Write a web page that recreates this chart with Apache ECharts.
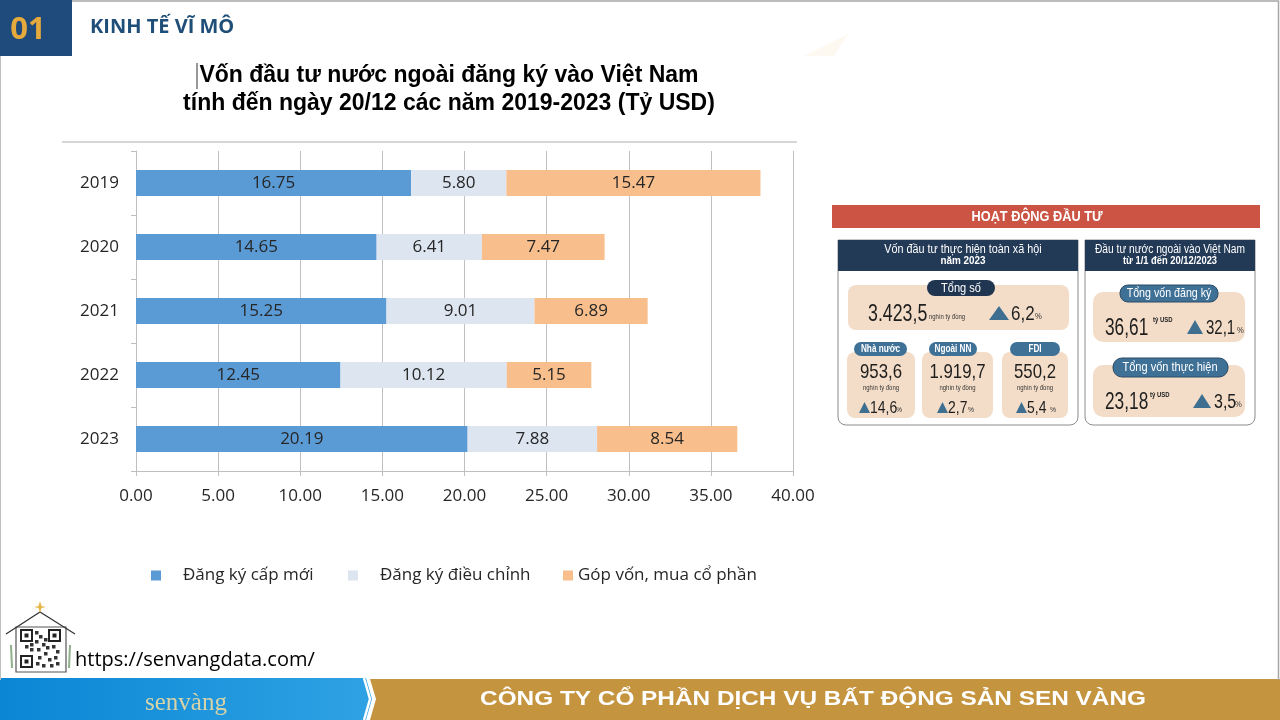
<!DOCTYPE html>
<html><head><meta charset="utf-8">
<script src="https://cdn.jsdelivr.net/npm/echarts@6/dist/echarts.min.js"></script>
<style>html,body{margin:0;padding:0;background:#fff}#c{width:1280px;height:720px}</style>
</head><body><div id="c"></div>
<script>
// ---- data ----
const years = ['2019', '2020', '2021', '2022', '2023'];
const newReg = [16.75, 14.65, 15.25, 12.45, 20.19];
const adjReg = [5.80, 6.41, 9.01, 10.12, 7.88];
const capContrib = [15.47, 7.47, 6.89, 5.15, 8.54];
const totals = [38.02, 28.53, 31.15, 27.72, 36.61];
const seriesNames = ['Đăng ký cấp mới', 'Đăng ký điều chỉnh', 'Góp vốn, mua cổ phần'];
const xMin = 0, xMax = 40, xStep = 5;

// ---- styles ----
const colors = ['#5B9BD5', '#DDE5F1', '#F8BF8D'];
const totalLabelOffsets = [[44, 3], [79, 3], [42, 5], [74, 1], [58, 2]];
const F = '"Open Sans", "Liberation Sans", sans-serif';
const A = '"Liberation Sans", Arial, sans-serif';
const N = '"Liberation Sans", Arial, sans-serif';

const g = [];
function rect(x, y, w, h, fill, o) {
  o = o || {};
  g.push({type: 'rect', silent: true, z: o.z || 1,
    shape: {x: x, y: y, width: w, height: h, r: o.r || 0},
    style: {fill: fill, stroke: o.stroke || null, lineWidth: o.lw || 0}});
}
function text(x, y, t, font, fill, align, sx) {
  g.push({type: 'text', silent: true, z: 5, x: x, y: y, scaleX: sx || 1,
    style: {text: t, font: font, fill: fill, textAlign: align || 'left', align: align || 'left',
      textVerticalAlign: 'middle', verticalAlign: 'middle'}});
}
function poly(pts, fill, o) {
  o = o || {};
  g.push({type: 'polygon', silent: true, z: o.z || 1, shape: {points: pts}, style: {fill: fill}});
}
function line(pts, stroke, lw, o) {
  o = o || {};
  g.push({type: 'polyline', silent: true, z: o.z || 2, shape: {points: pts}, style: {stroke: stroke, lineWidth: lw, fill: null}});
}

// slide frame
line([[72, 1], [1278.5, 1], [1278.5, 680]], '#A6A6A6', 1.5);
line([[0.5, 56], [0.5, 680]], '#BFBFBF', 1);
// header
rect(0, 0, 72, 56, '#1F4A7C');
text(28, 30, '01', 'bold 31px ' + F, '#E6A93B', 'center');
text(90, 27, 'KINH TẾ VĨ MÔ', 'bold 20px ' + F, '#1F4E79', 'left');
poly([[804, 56], [848, 34], [834, 56]], '#FDF9F1');
// chart title
text(449, 76, 'Vốn đầu tư nước ngoài đăng ký vào Việt Nam', 'bold 23px ' + A, '#000', 'center');
text(449, 104, 'tính đến ngày 20/12 các năm 2019-2023 (Tỷ USD)', 'bold 23px ' + A, '#000', 'center');
line([[197, 63], [197, 89]], '#333', 1);
line([[62, 142], [797, 142]], '#C8C8C8', 1.5);

// infographic
rect(832, 205, 428, 23, '#CB5444');
text(1037, 217, 'HOẠT ĐỘNG ĐẦU TƯ', 'bold 15px ' + N, '#fff', 'center', 0.85);
// left panel
rect(838, 240, 240, 185, '#fff', {stroke: '#8C8C8C', lw: 1, r: [0, 0, 8, 8]});
rect(838, 240, 240, 31, '#233A57', {z: 2});
text(963, 250, 'Vốn đầu tư thực hiện toàn xã hội', '12px ' + N, '#fff', 'center', 0.9);
text(963, 261, 'năm 2023', 'bold 11px ' + N, '#fff', 'center', 0.9);
rect(848, 285, 221, 45, '#F3DDC8', {r: 8, z: 2});
rect(927, 280, 68, 16, '#1F3550', {r: 8, z: 3});
text(961, 288, 'Tổng số', '13px ' + N, '#fff', 'center', 0.85);
text(868, 314, '3.423,5', '24px ' + N, '#1E1E1E', 'left', 0.74);
text(929, 317, 'nghìn tỷ đồng', '7px ' + N, '#333', 'left', 0.85);
poly([[989, 320], [999, 306], [1009, 320]], '#3E6E90', {z: 4});
text(1011, 314, '6,2', '20px ' + N, '#1E1E1E', 'left', 0.85);
text(1035, 317, '%', '9px ' + N, '#333', 'left', 0.85);
const smallBoxes = [
  {x: 847, w: 68, pill: [854, 53], name: 'Nhà nước', val: '953,6', tri: 859, pct: '14,6', pc: 896},
  {x: 922, w: 71, pill: [929, 48], name: 'Ngoài NN', val: '1.919,7', tri: 937, pct: '2,7', pc: 968},
  {x: 1002, w: 66, pill: [1010, 50], name: 'FDI', val: '550,2', tri: 1016, pct: '5,4', pc: 1050}
];
smallBoxes.forEach(function (b) {
  const cx = b.x + b.w / 2;
  rect(b.x, 352, b.w, 66, '#F3DDC8', {r: 8, z: 2});
  rect(b.pill[0], 342, b.pill[1], 14, '#3F7197', {r: 7, z: 3});
  text(b.pill[0] + b.pill[1] / 2, 349, b.name, 'bold 10px ' + N, '#fff', 'center', 0.82);
  text(cx, 372, b.val, '21px ' + N, '#1E1E1E', 'center', 0.8);
  text(cx, 388, 'nghìn tỷ đồng', '7px ' + N, '#333', 'center', 0.85);
  poly([[b.tri, 413], [b.tri + 5.5, 402], [b.tri + 11, 413]], '#3E6E90', {z: 4});
  text(b.tri + 11, 408, b.pct, '17px ' + N, '#1E1E1E', 'left', 0.82);
  text(b.pc, 410, '%', '8px ' + N, '#333', 'left', 0.85);
});
// right panel
rect(1085, 240, 170, 185, '#fff', {stroke: '#8C8C8C', lw: 1, r: [0, 0, 8, 8]});
rect(1085, 240, 170, 31, '#233A57', {z: 2});
text(1170, 250, 'Đầu tư nước ngoài vào Việt Nam', '12px ' + N, '#fff', 'center', 0.85);
text(1170, 261, 'từ 1/1 đến 20/12/2023', 'bold 11px ' + N, '#fff', 'center', 0.85);
rect(1093, 292, 152, 50, '#F3DDC8', {r: 10, z: 2});
rect(1120, 285, 98, 17, '#3F7197', {r: 8, z: 3, stroke: '#2A4A66', lw: 1});
text(1169, 293, 'Tổng vốn đăng ký', '13px ' + N, '#fff', 'center', 0.82);
text(1105, 328, '36,61', '24px ' + N, '#1E1E1E', 'left', 0.72);
text(1153, 320, 'tỷ USD', 'bold 7px ' + N, '#222', 'left', 0.85);
poly([[1187, 334], [1195, 320], [1203, 334]], '#3E6E90', {z: 4});
text(1206, 328, '32,1', '20px ' + N, '#1E1E1E', 'left', 0.75);
text(1237, 331, '%', '9px ' + N, '#333', 'left', 0.85);
rect(1093, 365, 152, 52, '#F3DDC8', {r: 10, z: 2});
rect(1113, 358, 115, 19, '#3F7197', {r: 9, z: 3, stroke: '#2A4A66', lw: 1});
text(1170, 367, 'Tổng vốn thực hiện', '13px ' + N, '#fff', 'center', 0.85);
text(1105, 402, '23,18', '24px ' + N, '#1E1E1E', 'left', 0.72);
text(1150, 395, 'tỷ USD', 'bold 7px ' + N, '#222', 'left', 0.85);
poly([[1193, 408], [1202, 394], [1211, 408]], '#3E6E90', {z: 4});
text(1214, 402, '3,5', '20px ' + N, '#1E1E1E', 'left', 0.8);
text(1235, 405, '%', '9px ' + N, '#333', 'left', 0.85);

// QR house
line([[6, 634], [40, 612], [75, 634]], '#333', 1.2);
rect(16, 627, 50, 45, '#fff', {stroke: '#555', lw: 1.2});
rect(21, 630, 40, 38, '#fff', {z: 2});
[[21, 630], [49, 630], [21, 656]].forEach(function (p) {
  rect(p[0], p[1], 11, 11, '#fff', {stroke: '#222', lw: 2, z: 3});
  rect(p[0] + 3.5, p[1] + 3.5, 4, 4, '#222', {z: 4});
});
[[35, 631], [39, 635], [35, 640], [42, 643], [25, 645], [30, 648], [37, 648], [46, 646], [52, 645], [56, 650], [44, 652], [38, 656], [48, 658], [54, 656], [36, 662], [42, 664], [50, 664], [56, 662], [44, 638], [30, 643]]
  .forEach(function (p) { rect(p[0], p[1], 3.5, 3.5, '#333', {z: 3}); });
poly([[40, 601], [41.5, 606], [46, 607], [41.5, 608], [40, 613], [38.5, 608], [34, 607], [38.5, 606]], '#E6B84A', {z: 3});
line([[11, 645], [12, 668]], '#8FB08A', 2);
line([[70, 645], [69, 668]], '#8FB08A', 2);
text(75, 660, 'https://senvangdata.com/', '20px ' + F, '#000', 'left');

// footer
g.push({type: 'polygon', silent: true, z: 1,
  shape: {points: [[0, 678], [366, 678], [372, 699], [366, 720], [0, 720]]},
  style: {fill: new echarts.graphic.LinearGradient(0, 0, 1, 0, [{offset: 0, color: '#0A86D4'}, {offset: 1, color: '#2FA2E4'}])}});
poly([[370, 679], [1280, 679], [1280, 720], [370, 720], [376, 699]], '#C4943F');
line([[364, 678], [370, 699], [364, 720]], '#fff', 2.5, {z: 3});
text(186, 703, 'senvàng', '25px "Liberation Serif", serif', '#D6D3A8', 'center');
text(813, 699, 'CÔNG TY CỔ PHẦN DỊCH VỤ BẤT ĐỘNG SẢN SEN VÀNG', 'bold 21px ' + A, '#fff', 'center', 1.16);

// ---- chart ----
const barData = [newReg, adjReg, capContrib];
const series = barData.map(function (d, i) {
  return {
    name: seriesNames[i], type: 'bar', stack: 'total', barWidth: 26, data: d,
    itemStyle: {color: colors[i]},
    label: {show: true, position: 'inside', color: '#262626', fontSize: 17, fontFamily: F,
      formatter: function (p) { return p.value.toFixed(2); }}
  };
});
series.push({
  name: 'Tổng', type: 'scatter', symbolSize: 1, itemStyle: {opacity: 0}, z: 10,
  data: totals.map(function (v, i) { return {value: [v, years[i]], label: {offset: totalLabelOffsets[i]}}; }),
  label: {show: true, position: 'inside', color: '#000', fontSize: 18, fontWeight: 'bold', fontFamily: A,
    formatter: function (p) { return p.value[0].toFixed(2); }}
});

function leg(name, left, pad) {
  return {data: [name], left: left, top: 567, padding: 0, icon: 'rect', itemWidth: 10, itemHeight: 10,
    selectedMode: false, textStyle: {fontSize: 17, fontFamily: F, color: '#262626', padding: [0, 0, 0, pad]}};
}

const chart = echarts.init(document.getElementById('c'), null, {renderer: 'canvas'});
chart.setOption({
  animation: false,
  backgroundColor: '#fff',
  color: colors,
  grid: {left: 136, top: 151, width: 657, height: 320},
  legend: [leg(seriesNames[0], 151, 17), leg(seriesNames[1], 348, 17), leg(seriesNames[2], 563, 0)],
  xAxis: {
    type: 'value', min: xMin, max: xMax, interval: xStep,
    axisLine: {show: true, lineStyle: {color: '#BFBFBF'}},
    axisTick: {show: true, length: 5, lineStyle: {color: '#BFBFBF'}},
    splitLine: {show: true, lineStyle: {color: '#BFBFBF'}},
    axisLabel: {fontSize: 17, fontFamily: F, color: '#262626', margin: 17,
      formatter: function (v) { return v.toFixed(2); }}
  },
  yAxis: {
    type: 'category', data: years, inverse: true,
    axisLine: {show: true, lineStyle: {color: '#BFBFBF'}},
    axisTick: {show: true, length: 5, lineStyle: {color: '#BFBFBF'}},
    axisLabel: {fontSize: 17, fontFamily: F, color: '#262626', margin: 17}
  },
  series: series,
  graphic: {elements: g}
});
</script>
</body></html>
